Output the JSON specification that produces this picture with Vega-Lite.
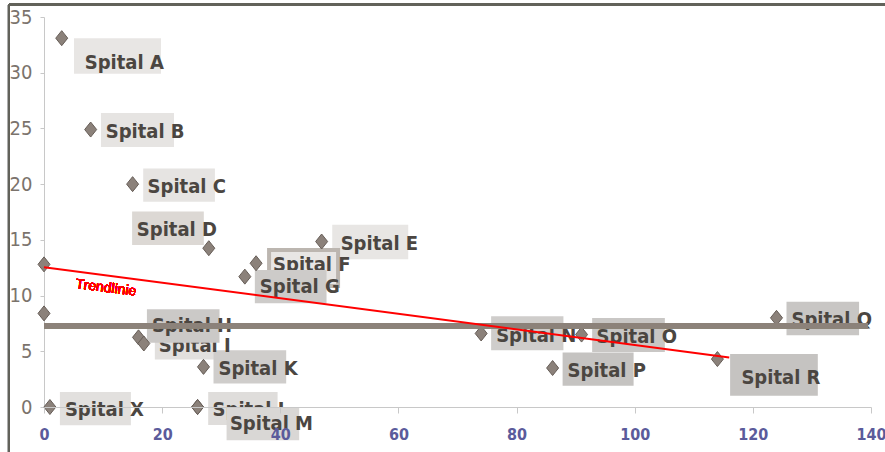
{
  "$schema": "https://vega.github.io/schema/vega-lite/v6.json",
  "width": 827,
  "height": 390,
  "autosize": "none",
  "padding": {"left": 44, "top": 17, "right": 14, "bottom": 45},
  "background": "white",
  "config": {
    "view": {"stroke": null},
    "font": "Liberation Sans Narrow, Arial Narrow, DejaVu Sans Condensed, sans-serif"
  },
  "datasets": {
    "spitals": [
      {"name": "Spital A", "x": 3.0, "y": 33.1},
      {"name": "Spital B", "x": 7.9, "y": 24.9},
      {"name": "Spital C", "x": 15.0, "y": 20.0},
      {"name": "Spital D", "x": 27.9, "y": 14.25},
      {"name": "Spital E", "x": 47.0, "y": 14.85},
      {"name": "Spital F", "x": 35.9, "y": 12.9},
      {"name": "Spital G", "x": 34.0, "y": 11.7},
      {"name": "Spital H", "x": 16.0, "y": 6.25},
      {"name": "Spital I", "x": 16.9, "y": 5.7},
      {"name": "Spital K", "x": 27.0, "y": 3.6},
      {"name": "Spital L", "x": 26.0, "y": 0},
      {"name": "Spital M", "x": 26.0, "y": 0},
      {"name": "Spital N", "x": 74.0, "y": 6.6},
      {"name": "Spital O", "x": 91.0, "y": 6.5},
      {"name": "Spital P", "x": 86.1, "y": 3.5},
      {"name": "Spital Q", "x": 124.0, "y": 8.0},
      {"name": "Spital R", "x": 114.0, "y": 4.3},
      {"name": "Spital X", "x": 1.0, "y": 0},
      {"name": "", "x": 0, "y": 12.8},
      {"name": "", "x": 0, "y": 8.4}
    ],
    "trend": [
      {"x": 0, "y": 12.55},
      {"x": 116, "y": 4.45}
    ]
  },
  "data": {"name": "spitals"},
  "layer": [
    {
      "transform": [{"filter": {"field": "name", "oneOf": ["Spital A", "Spital B", "Spital C", "Spital D", "Spital E", "Spital I", "Spital K", "Spital L", "Spital N", "Spital O", "Spital P", "Spital Q", "Spital R", "Spital X"]}}],
      "mark": {"type": "point", "size": 10000, "filled": true, "opacity": 1, "strokeWidth": 0},
      "encoding": {
        "x": {"field": "x", "type": "quantitative", "scale": {"domain": [0, 140], "nice": false, "zero": false},
          "axis": {"values": [0, 20, 40, 60, 80, 100, 120, 140], "title": null, "grid": false, "tickSize": 6, "tickColor": "#c8c8c8", "domainColor": "#c8c8c8", "labelColor": "#5b5b9b", "labelFontSize": 16, "labelFontWeight": "bold", "labelPadding": 13, "labelFlush": false, "zindex": 1}},
        "y": {"field": "y", "type": "quantitative", "scale": {"domain": [0, 35], "nice": false, "zero": false},
          "axis": {"values": [0, 5, 10, 15, 20, 25, 30, 35], "title": null, "grid": false, "tickSize": 4, "tickColor": "#c8c8c8", "domainColor": "#c8c8c8", "labelColor": "#7b736c", "labelFontSize": 20, "labelPadding": 8}},
        "shape": {"field": "name", "type": "nominal", "legend": null,
          "scale": {
            "domain": ["Spital A", "Spital B", "Spital C", "Spital D", "Spital E", "Spital F", "Spital G", "Spital H", "Spital I", "Spital K", "Spital L", "Spital M", "Spital N", "Spital O", "Spital P", "Spital Q", "Spital R", "Spital X"],
            "range": [
              "M0.246,0L1.986,0L1.986,0.712L0.246,0.712Z",
              "M0.206,-0.332L1.666,-0.332L1.666,0.348L0.206,0.348Z",
              "M0.212,-0.314L1.646,-0.314L1.646,0.354L0.212,0.354Z",
              "M-1.534,-0.732L-0.1,-0.732L-0.1,-0.066L-1.534,-0.066Z",
              "M0.212,-0.334L1.732,-0.334L1.732,0.352L0.212,0.352Z",
              "M0.26,-0.266L1.64,-0.266L1.64,0.454L0.26,0.454Z",
              "M0.2,-0.134L1.634,-0.134L1.634,0.532L0.2,0.532Z",
              "M0.168,-0.56L1.62,-0.56L1.62,0.108L0.168,0.108Z",
              "M0.22,-0.28L1.42,-0.28L1.42,0.32L0.22,0.32Z",
              "M0.2,-0.334L1.654,-0.334L1.654,0.332L0.2,0.332Z",
              "M0.212,-0.3L1.6,-0.3L1.6,0.36L0.212,0.36Z",
              "M0.58,0L2.032,0L2.032,0.666L0.58,0.666Z",
              "M0.2,-0.346L1.646,-0.346L1.646,0.334L0.2,0.334Z",
              "M0.212,-0.332L1.666,-0.332L1.666,0.348L0.212,0.348Z",
              "M0.2,-0.312L1.62,-0.312L1.62,0.354L0.2,0.354Z",
              "M0.2,-0.32L1.652,-0.32L1.652,0.346L0.2,0.346Z",
              "M0.254,-0.1L2.008,-0.1L2.008,0.734L0.254,0.734Z",
              "M0.2,-0.3L1.62,-0.3L1.62,0.366L0.2,0.366Z"
            ]
          }},
        "fill": {"field": "name", "type": "nominal", "legend": null,
          "scale": {
            "domain": ["Spital A", "Spital B", "Spital C", "Spital D", "Spital E", "Spital F", "Spital G", "Spital H", "Spital I", "Spital K", "Spital L", "Spital M", "Spital N", "Spital O", "Spital P", "Spital Q", "Spital R", "Spital X"],
            "range": ["#e8e6e4", "#e6e4e2", "#e6e4e2", "#dcd8d4", "#e8e6e4", "#e8e6e4", "#cdcbc9", "#cbc9c7", "#e2e0de", "#cfcdcb", "#dfdddb", "#d9d7d5", "#cfcdcb", "#c9c7c5", "#c5c3c1", "#c8c6c4", "#c5c3c1", "#e2e0de"]
          }}
      }
    },
    {
      "transform": [{"filter": {"field": "name", "equal": "Spital F"}}],
      "mark": {"type": "point", "size": 10000, "filled": true, "opacity": 1, "fill": "#e8e6e4", "stroke": "#bcb6b0", "strokeWidth": 4, "shape": "M0.26,-0.266L1.64,-0.266L1.64,0.454L0.26,0.454Z"},
      "encoding": {
        "x": {"field": "x", "type": "quantitative"},
        "y": {"field": "y", "type": "quantitative"}
      }
    },
    {
      "transform": [{"filter": {"field": "name", "oneOf": ["Spital B", "Spital C", "Spital I", "Spital K", "Spital L", "Spital N", "Spital O", "Spital P", "Spital Q", "Spital X"]}}],
      "mark": {"type": "text", "align": "left", "baseline": "alphabetic", "dx": 15, "dy": 8.5, "fontSize": 20, "fontWeight": "bold", "fill": "#4b4641"},
      "encoding": {"x": {"field": "x", "type": "quantitative"}, "y": {"field": "y", "type": "quantitative"}, "text": {"field": "name"}}
    },
    {
      "transform": [{"filter": {"field": "name", "equal": "Spital E"}}],
      "mark": {"type": "text", "align": "left", "baseline": "alphabetic", "dx": 19, "dy": 8.3, "fontSize": 20, "fontWeight": "bold", "fill": "#4b4641"},
      "encoding": {"x": {"field": "x", "type": "quantitative"}, "y": {"field": "y", "type": "quantitative"}, "text": {"field": "name"}}
    },
    {
      "transform": [{"filter": {"field": "name", "equal": "Spital F"}}],
      "mark": {"type": "text", "align": "left", "baseline": "alphabetic", "dx": 17, "dy": 7.4, "fontSize": 20, "fontWeight": "bold", "fill": "#4b4641"},
      "encoding": {"x": {"field": "x", "type": "quantitative"}, "y": {"field": "y", "type": "quantitative"}, "text": {"field": "name"}}
    },
    {
      "transform": [{"filter": {"field": "name", "equal": "Spital A"}}],
      "mark": {"type": "text", "align": "left", "baseline": "alphabetic", "dx": 23, "dy": 30.6, "fontSize": 20, "fontWeight": "bold", "fill": "#4b4641"},
      "encoding": {"x": {"field": "x", "type": "quantitative"}, "y": {"field": "y", "type": "quantitative"}, "text": {"field": "name"}}
    },
    {
      "transform": [{"filter": {"field": "name", "equal": "Spital D"}}],
      "mark": {"type": "text", "align": "left", "baseline": "alphabetic", "dx": -72, "dy": -12.3, "fontSize": 20, "fontWeight": "bold", "fill": "#4b4641"},
      "encoding": {"x": {"field": "x", "type": "quantitative"}, "y": {"field": "y", "type": "quantitative"}, "text": {"field": "name"}}
    },
    {
      "transform": [{"filter": {"field": "name", "equal": "Spital R"}}],
      "mark": {"type": "text", "align": "left", "baseline": "alphabetic", "dx": 24, "dy": 25, "fontSize": 20, "fontWeight": "bold", "fill": "#4b4641"},
      "encoding": {"x": {"field": "x", "type": "quantitative"}, "y": {"field": "y", "type": "quantitative"}, "text": {"field": "name"}}
    },
    {
      "transform": [{"filter": {"field": "name", "oneOf": ["Spital G", "Spital H", "Spital M"]}}],
      "mark": {"type": "point", "size": 10000, "filled": true, "opacity": 1, "strokeWidth": 0},
      "encoding": {
        "x": {"field": "x", "type": "quantitative"},
        "y": {"field": "y", "type": "quantitative"},
        "shape": {"field": "name", "type": "nominal", "legend": null},
        "fill": {"field": "name", "type": "nominal", "legend": null}
      }
    },
    {
      "transform": [{"filter": {"field": "name", "equal": "Spital H"}}],
      "mark": {"type": "text", "align": "left", "baseline": "alphabetic", "dx": 13.4, "dy": -5.6, "fontSize": 20, "fontWeight": "bold", "fill": "#4b4641"},
      "encoding": {"x": {"field": "x", "type": "quantitative"}, "y": {"field": "y", "type": "quantitative"}, "text": {"field": "name"}}
    },
    {
      "transform": [{"filter": {"field": "name", "equal": "Spital G"}}],
      "mark": {"type": "text", "align": "left", "baseline": "alphabetic", "dx": 15, "dy": 16.6, "fontSize": 20, "fontWeight": "bold", "fill": "#4b4641"},
      "encoding": {"x": {"field": "x", "type": "quantitative"}, "y": {"field": "y", "type": "quantitative"}, "text": {"field": "name"}}
    },
    {
      "transform": [{"filter": {"field": "name", "equal": "Spital M"}}],
      "mark": {"type": "text", "align": "left", "baseline": "alphabetic", "dx": 32.3, "dy": 23.3, "fontSize": 20, "fontWeight": "bold", "fill": "#4b4641"},
      "encoding": {"x": {"field": "x", "type": "quantitative"}, "y": {"field": "y", "type": "quantitative"}, "text": {"field": "name"}}
    },
    {
      "mark": {"type": "point", "filled": true, "opacity": 1, "size": 144, "shape": "M0,-1.25L1,0L0,1.25L-1,0Z", "fill": "#8b817a", "stroke": "#675e58", "strokeWidth": 1},
      "encoding": {"x": {"field": "x", "type": "quantitative"}, "y": {"field": "y", "type": "quantitative"}}
    },
    {
      "mark": {"type": "rule", "color": "#8c827a", "strokeWidth": 5},
      "encoding": {"x": {"datum": 0}, "x2": {"datum": 139.4}, "y": {"datum": 7.3}}
    },
    {
      "data": {"name": "trend"},
      "mark": {"type": "line", "color": "#ff0000", "strokeWidth": 2},
      "encoding": {"x": {"field": "x", "type": "quantitative"}, "y": {"field": "y", "type": "quantitative"}}
    },
    {
      "mark": {"type": "text", "text": "Trendlinie", "font": "Liberation Sans", "fontSize": 14, "fontWeight": "normal", "fill": "#ff0000", "angle": 7, "align": "center", "baseline": "middle"},
      "encoding": {"x": {"datum": 10.5}, "y": {"datum": 10.68}}
    },
    {
      "mark": {"type": "rule", "color": "#62625a", "strokeWidth": 2},
      "encoding": {"x": {"datum": -5.93}, "x2": {"datum": 142.5}, "y": {"datum": 36.12}}
    },
    {
      "mark": {"type": "rule", "color": "#62625a", "strokeWidth": 2},
      "encoding": {"x": {"datum": -5.93}, "y": {"datum": 36.12}, "y2": {"datum": -4.1}}
    }
  ]
}
